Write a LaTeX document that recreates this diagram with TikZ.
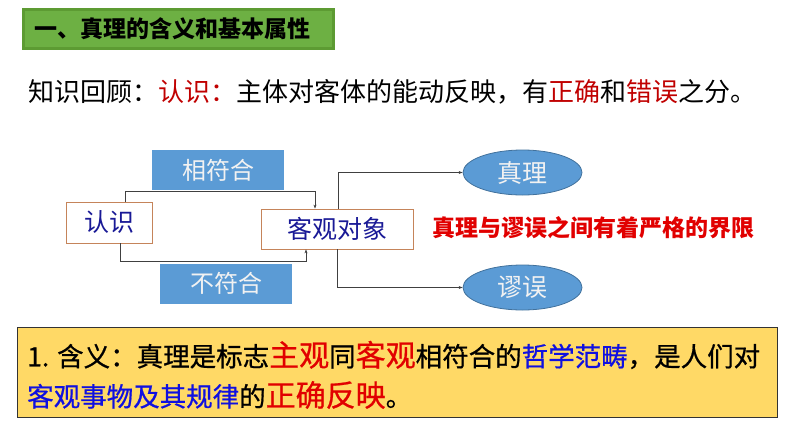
\documentclass[tikz,border=0pt]{standalone}
\usepackage{fontspec}
\setmainfont{Noto Sans CJK SC}
\newfontfamily\heimid[FakeBold=0.7]{Noto Sans CJK SC}
\usetikzlibrary{shapes.geometric,arrows.meta,calc}
\definecolor{tgreen}{RGB}{93,155,51}
\definecolor{tgreenl}{RGB}{109,176,67}
\definecolor{bfill}{RGB}{91,155,213}
\definecolor{bedge}{RGB}{65,113,156}
\definecolor{btext}{RGB}{242,242,242}
\definecolor{oedge}{RGB}{197,132,90}
\definecolor{navyt}{RGB}{25,25,150}
\definecolor{darkred}{RGB}{192,0,0}
\definecolor{bred}{RGB}{225,0,0}
\definecolor{ybox}{RGB}{255,217,102}
\definecolor{bluet}{RGB}{16,16,224}
\definecolor{conn}{RGB}{64,64,64}
\tikzset{
  lbox/.style={rectangle, fill=bfill, text=btext, minimum width=132pt, minimum height=40pt, inner sep=0pt, font=\fontsize{24}{26}\selectfont},
  obox/.style={rectangle, draw=oedge, line width=0.8pt, fill=white, text=navyt, minimum height=41pt, inner sep=0pt, font=\fontsize{25}{27}\selectfont},
  ell/.style={ellipse, fill=bfill, draw=bedge, line width=0.8pt, text=btext, minimum width=119pt, minimum height=45pt, inner sep=0pt, font=\fontsize{25}{27}\selectfont},
  connl/.style={draw=conn, line width=0.8pt, -{Stealth[length=4pt,width=3pt]}},
  txt/.style={anchor=west, inner sep=0pt}
}
\begin{document}
\begin{tikzpicture}[x=1pt,y=-1pt]
\useasboundingbox (0,0) rectangle (794,447);
% title
\node[rectangle, fill=tgreen, minimum width=313pt, minimum height=42pt, inner sep=0pt] (title) at (178.5,29) {};
\fill[tgreenl] ([shift={(3,3)}]title.north west) rectangle ([shift={(-3,-3)}]title.south east);
\node[txt, font=\fontsize{23}{25}\selectfont\bfseries] (ttext) at (34,29) {一、真理的含义和基本属性};
% review line
\node[txt, font=\fontsize{26}{28}\selectfont] (review) at (28,92) {知识回顾：\textcolor{darkred}{认识：}主体对客体的能动反映，有\textcolor{darkred}{正确}和\textcolor{darkred}{错误}之分。};
% diagram
\node[lbox] (xfh) at (218,170) {相符合};
\node[lbox] (bfh) at (226,283.5) {不符合};
\node[obox, minimum width=86pt] (rs) at (109,222.5) {认识};
\node[obox, minimum width=152pt, minimum height=40pt] (obj) at (337,229) {客观对象};
\node[ell] (zl) at (522.5,172.5) {真理};
\node[ell] (mw) at (522.5,287.5) {谬误};
\node[txt, text=bred, font=\fontsize{23}{25}\selectfont\bfseries] (jx) at (432,228) {真理与谬误之间有着严格的界限};
\coordinate (c1) at (125,191);
\coordinate (c2) at (315,191);
\coordinate (c3) at (120,261);
\coordinate (c4) at (306,261);
\coordinate (c5) at (338,172.5);
\coordinate (c6) at (337,287.5);
\draw[connl] (rs.north -| c1) -- (c1) -- (c2) -- (obj.north -| c2);
\draw[connl] (rs.south -| c3) -- (c3) -- (c4) -- (obj.south -| c4);
\draw[connl] (obj.north -| c5) -- (c5) -- (zl.west);
\draw[connl] (obj.south -| c6) -- (c6) -- (mw.west);
% definition box
\node[rectangle, fill=ybox, draw=black!80, line width=1pt, minimum width=760pt, minimum height=90pt, inner sep=0pt] (def) at (397,372) {};
\node[txt, font=\heimid\fontsize{26.5}{28}\selectfont] (d1) at (27,355) {1. 含义：真理是标志{\fontsize{30}{30}\selectfont\textcolor{bred}{主观}}同{\fontsize{30}{30}\selectfont\textcolor{bred}{客观}}相符合的\textcolor{bluet}{哲学范畴}，是人们对};
\node[txt, font=\heimid\fontsize{26.5}{28}\selectfont] (d2) at (27,395) {\textcolor{bluet}{客观事物及其规律}的{\fontsize{30}{30}\selectfont\textcolor{bred}{正确反映}}。};
\end{tikzpicture}
\end{document}
